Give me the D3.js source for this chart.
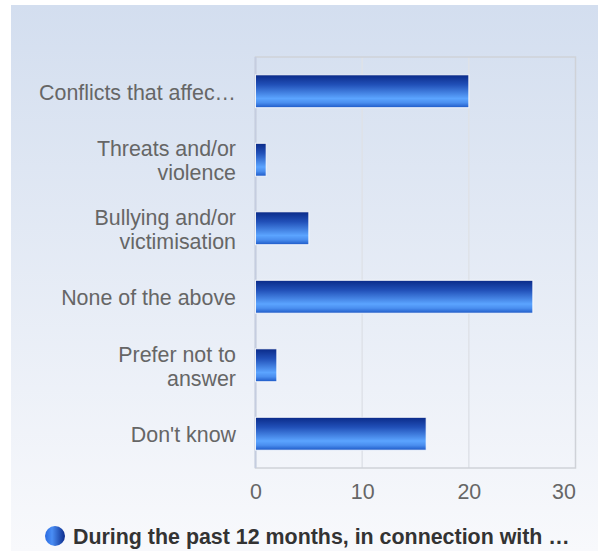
<!DOCTYPE html>
<html><head><meta charset="utf-8">
<script src="https://cdn.jsdelivr.net/npm/d3@7"></script>
<style>html,body{margin:0;padding:0;background:#fff;}svg{display:block;font-family:"Liberation Sans",Arial,sans-serif;}</style>
</head><body>
<script>
const categories = ["Conflicts that affec\u2026", "Threats and/or\nviolence", "Bullying and/or\nvictimisation", "None of the above", "Prefer not to\nanswer", "Don't know"];
const values = [20, 1, 5, 26, 2, 16];
const xTicks = [0, 10, 20, 30];
const seriesName = "During the past 12 months, in connection with \u2026";

(function(){
const W = 598, H = 551;
const FS = 21.4;
const svg = d3.select("body").append("svg").attr("width", W).attr("height", H);
const defs = svg.append("defs");

const bg = defs.append("linearGradient").attr("id","bg").attr("x1",0).attr("y1",0).attr("x2",0).attr("y2",1);
bg.append("stop").attr("offset","0").attr("stop-color","#d3deef");
bg.append("stop").attr("offset","1").attr("stop-color","#f8f9fc");

const bar = defs.append("linearGradient").attr("id","bar").attr("x1",0).attr("y1",0).attr("x2",0).attr("y2",1);
[["0","#0a2a88"],["0.3","#2150b8"],["0.72","#5ba4ff"],["0.85","#4a8eef"],["1","#1d58c6"]].forEach(s=>bar.append("stop").attr("offset",s[0]).attr("stop-color",s[1]));

const leg = defs.append("linearGradient").attr("id","leg").attr("x1",0).attr("y1",0).attr("x2",1).attr("y2",0);
[["0","#2a6ae0"],["0.35","#4a8ef5"],["1","#0c2c8c"]].forEach(s=>leg.append("stop").attr("offset",s[0]).attr("stop-color",s[1]));

svg.append("rect").attr("x",11).attr("y",5).attr("width",W-11).attr("height",H-5).attr("fill","url(#bg)");

const pLeft = 255.5, pRight = 575.5, pTop = 57, pBottom = 468;
const x = d3.scaleLinear().domain([0,30]).range([pLeft,pRight]);
const y = d3.scaleBand().domain(categories).range([pTop,pBottom]).paddingInner(0.52).paddingOuter(0.26);

svg.append("g").selectAll("line").data(xTicks.slice(1,-1)).join("line")
  .attr("x1",d=>x(d)).attr("x2",d=>x(d)).attr("y1",pTop).attr("y2",pBottom)
  .attr("stroke","#dfe2e8").attr("stroke-width",1.5);

svg.append("rect").attr("x",pLeft).attr("y",pTop).attr("width",pRight-pLeft).attr("height",pBottom-pTop)
  .attr("fill","none").attr("stroke","#cfd2d8").attr("stroke-width",1.5);

svg.append("line").attr("x1",pLeft).attr("x2",pLeft).attr("y1",pTop).attr("y2",pBottom)
  .attr("stroke","#c5cde0").attr("stroke-width",2);

svg.append("g").selectAll("rect").data(values).join("rect")
  .attr("x",x(0)).attr("y",(d,i)=>y(categories[i]))
  .attr("width",d=>x(d)-x(0)).attr("height",y.bandwidth())
  .attr("fill","url(#bar)").attr("stroke","#ffffff").attr("stroke-opacity",0.85).attr("stroke-width",1);

const lab = svg.append("g").attr("font-size",FS).attr("fill","#666666").attr("text-anchor","end");
categories.forEach(c=>{
  const lines = c.split("\n");
  const cy = y(c) + y.bandwidth()/2;
  const lh = 24;
  const t = lab.append("text").attr("x",236);
  lines.forEach((ln,j)=>{
    t.append("tspan").attr("x",236).attr("y", cy + (j - (lines.length-1)/2)*lh).attr("dy","0.4em").text(ln);
  });
});

const xa = d3.axisBottom(x).tickValues(xTicks).tickSize(0).tickPadding(0).tickFormat(d3.format("d"));
const gx = svg.append("g").attr("transform",`translate(0,${pBottom})`).call(xa);
gx.select(".domain").remove();
gx.selectAll("text").attr("font-size",FS).attr("fill","#666666").attr("font-family","Liberation Sans, Arial, sans-serif")
  .attr("y",22).attr("dy","0.4em");
gx.selectAll("text").filter(d=>d===30).attr("dx",-12);

svg.append("circle").attr("cx",55).attr("cy",536).attr("r",10).attr("fill","url(#leg)");
svg.append("text").attr("x",73).attr("y",536).attr("dy","0.37em").attr("font-size",FS).attr("font-weight","bold")
  .attr("fill","#333333").text(seriesName);
})();
</script>
</body></html>
